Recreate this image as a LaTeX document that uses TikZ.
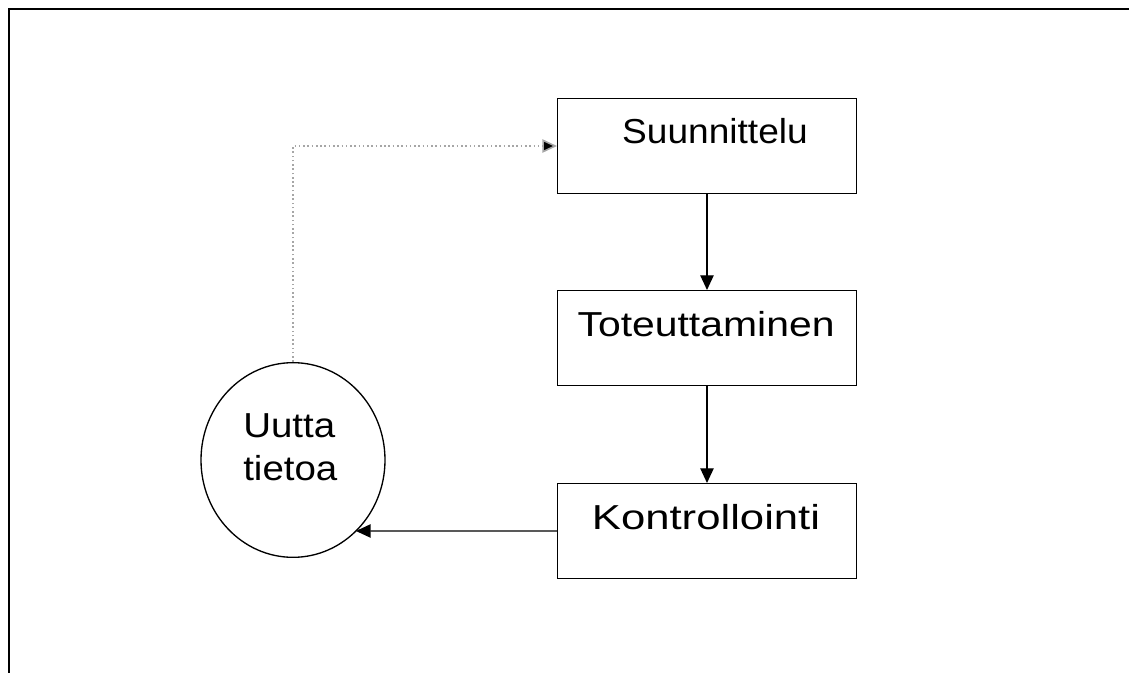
\documentclass[tikz,border=0pt]{standalone}
\usepackage{fontspec}
\setmainfont{Liberation Sans}
\usetikzlibrary{arrows.meta,shapes.geometric,intersections}
% horizontally widened label text
\newcommand{\widetxt}[2]{\scalebox{#1}[1]{#2}}
\begin{document}
\begin{tikzpicture}[x=0.75pt,y=-0.75pt,
  stepbox/.style={draw=black,line width=1pt,minimum width=224pt,minimum height=71pt,inner sep=0pt},
  lbl/.style={font=\fontsize{26}{31}\selectfont,inner sep=0pt},
  flow/.style={draw=black,line width=1pt,-{Triangle[length=11pt,width=10pt]}},
  feedback/.style={draw=gray!70,line width=1.2pt,dotted,-{Triangle[length=11pt,width=10pt,fill=black]}},
  frameline/.style={draw=black,line width=1.9pt}]
  \useasboundingbox (0,0) rectangle (1129,673);
  % frame
  \draw[frameline] (1129,9) -- (9,9) -- (9,673);
  % process boxes
  \node[stepbox] (s) at (707,146) {};
  \node[lbl] (st) at (715,131) {\widetxt{1.07}{Suunnittelu}};
  \node[stepbox] (t) at (707,338) {};
  \node[lbl] (tt) at (706,324) {\widetxt{1.18}{Toteuttaminen}};
  \node[stepbox] (k) at (707,531) {};
  \node[lbl] (kt) at (706,517) {\widetxt{1.26}{Kontrollointi}};
  % new information
  \node[ellipse,draw=black,line width=1pt,minimum width=138pt,minimum height=146pt,inner sep=0pt,name path=ell] (u) at (293,460) {};
  \node[lbl,align=left,anchor=west,font=\fontsize{26}{32}\selectfont] (ut) at (243,447) {\widetxt{1.11}{Uutta}\\\widetxt{1.11}{tietoa}};
  % connectors
  \draw[flow] (s) -- (t);
  \draw[flow] (t) -- (k);
  \path[name path=ret] (k.west) -- (k.west -| u.west);
  \path[name intersections={of=ret and ell,sort by=ret,by={ue}}];
  \draw[flow] (k.west) -- (ue);
  \draw[feedback] (u.north) |- (s.west);
\end{tikzpicture}
\end{document}
